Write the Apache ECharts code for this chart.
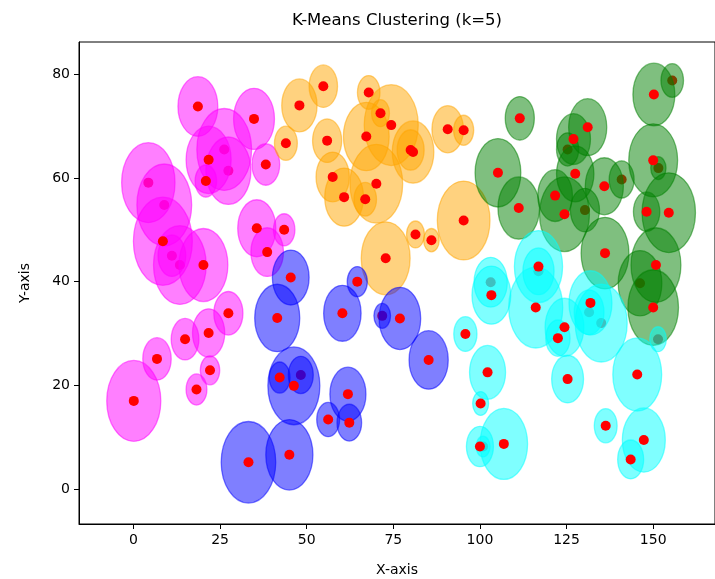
<!DOCTYPE html>
<html>
<head>
<meta charset="utf-8">
<script src="https://cdn.jsdelivr.net/npm/echarts@6/dist/echarts.min.js"></script>
<style>html,body{margin:0;padding:0;background:#fff}#c{width:715px;height:579px}</style>
</head>
<body>
<div id="c"></div>
<script>
// Each point: [x, y, radius (data units), dotBeneath (1 = red dot lies under the circles)]
const magentaPts = [
  [18.6,73.8,5.75,0],[34.8,71.4,5.9,0],[26.2,65.5,7.9,1],[21.7,63.5,6.5,0],[27.4,61.4,6.5,1],
  [20.9,59.4,3.1,0],[38.2,62.6,4.0,0],[4.3,59.1,7.7,1],[8.9,54.8,7.9,1],[8.5,47.8,8.5,0],
  [11.1,45.0,4.0,1],[13.4,43.2,7.6,1],[20.2,43.2,7.05,0],[35.6,50.3,5.5,0],[43.5,50.0,3.1,0],
  [38.6,45.7,4.7,0],[27.4,33.9,4.2,0],[21.7,30.1,4.65,0],[14.9,28.9,4.0,0],[6.8,25.1,4.1,0],
  [22.1,22.9,2.8,0],[18.2,19.2,3.0,0],[0.1,17.0,7.8,0]
];
const orangePts = [
  [47.9,74.0,5.1,0],[44.0,66.7,3.3,0],[54.8,77.7,4.1,0],[55.9,67.2,4.2,0],[57.5,60.2,4.8,0],
  [60.8,56.3,5.6,0],[66.9,55.9,3.25,0],[70.1,58.9,7.6,0],[67.9,76.5,3.25,0],[71.3,72.5,2.6,0],
  [74.4,70.2,7.8,0],[67.2,68.0,6.6,0],[80.7,65.0,6.0,0],[80.0,65.4,3.9,0],[90.7,69.4,4.55,0],
  [95.3,69.2,2.9,0],[95.3,51.8,7.6,0],[81.4,49.1,2.6,0],[86.0,48.0,2.25,0],[72.8,44.5,7.05,0]
];
const bluePts = [
  [33.2,5.15,7.87,0],[45.0,6.6,6.8,0],[46.3,19.9,7.5,0],[42.2,21.5,3.0,0],[48.3,22.0,3.6,1],
  [56.2,13.4,3.3,0],[62.3,12.8,3.55,0],[61.9,18.3,5.2,0],[45.4,40.8,5.3,0],[41.5,33.0,6.5,0],
  [60.3,33.9,5.4,0],[64.6,40.0,2.9,0],[71.8,33.4,2.4,1],[76.9,32.9,6.0,0],[85.2,24.9,5.65,0]
];
const greenPts = [
  [105.2,61.0,6.6,0],[111.5,71.5,4.2,0],[111.2,54.2,6.0,0],[121.7,56.6,5.0,0],[124.4,53.0,7.2,0],
  [130.3,53.8,4.2,1],[127.5,60.8,5.4,0],[125.3,65.5,3.2,1],[127.0,67.5,4.9,0],[131.1,69.8,5.5,0],
  [135.9,58.4,5.5,0],[140.9,59.7,3.6,1],[136.1,45.5,6.9,0],[150.2,76.1,6.05,0],[155.5,78.8,3.25,1],
  [150.0,63.4,7.05,0],[151.5,61.9,2.2,1],[148.1,53.5,3.8,0],[154.5,53.3,7.7,0],[150.8,43.2,7.2,0],
  [146.2,39.7,6.3,1],[150.0,35.0,7.3,0]
];
const cyanPts = [
  [103.1,39.9,4.8,1],[103.3,37.4,5.6,0],[95.8,29.9,3.35,0],[102.2,22.5,5.2,0],[100.2,16.5,2.3,0],
  [100.0,8.2,3.9,0],[100.9,8.2,2.0,1],[106.9,8.7,6.85,0],[116.9,42.9,6.95,0],[116.9,42.0,4.5,1],
  [116.1,35.0,7.8,0],[124.4,31.2,5.6,0],[122.5,29.1,3.5,0],[131.9,35.9,6.2,0],[131.5,34.1,4.3,1],
  [135.0,32.0,7.5,1],[125.3,21.2,4.6,0],[145.4,22.1,7.05,0],[136.3,12.2,3.3,0],[147.3,9.45,6.2,0],
  [143.5,5.7,3.75,0],[151.4,28.9,2.4,1]
];
const xTicks = [0,25,50,75,100,125,150];
const yTicks = [0,20,40,60,80];

const clusters = [
  {name:'Cluster magenta', color:'#ff00ff', pts: magentaPts},
  {name:'Cluster orange', color:'#ffa500', pts: orangePts},
  {name:'Cluster blue', color:'#0000ff', pts: bluePts},
  {name:'Cluster green', color:'#008000', pts: greenPts},
  {name:'Cluster cyan', color:'#00ffff', pts: cyanPts}
];

const allPts = clusters.flatMap(c => c.pts);
const dotsBelow = allPts.filter(p => p[3] === 1).map(p => [p[0], p[1]]);
const dotsAbove = allPts.filter(p => p[3] === 0).map(p => [p[0], p[1]]);

const FONT = 'DejaVu Sans';

const circleSeries = clusters.map(c => ({
  type: 'custom',
  name: c.name,
  z: 2,
  clip: false,
  data: c.pts.map(p => [p[0], p[1], p[2]]),
  renderItem: function (params, api) {
    const ctr = api.coord([api.value(0), api.value(1)]);
    const sz = api.size([api.value(2), api.value(2)], [api.value(0), api.value(1)]);
    return {
      type: 'ellipse',
      shape: {cx: ctr[0], cy: ctr[1], rx: sz[0], ry: sz[1]},
      style: {fill: c.color, stroke: c.color, lineWidth: 1.3, opacity: 0.5}
    };
  }
}));

const chart = echarts.init(document.getElementById('c'), null, {renderer: 'canvas'});
chart.setOption({
  animation: false,
  backgroundColor: '#fff',
  grid: {left: 79, right: -2, top: 42, bottom: 55, show: true, borderColor: '#000', borderWidth: 1, backgroundColor: 'transparent'},
  xAxis: {
    type: 'value', min: -15.71, max: 167.84,
    splitLine: {show: false},
    axisLine: {show: true, onZero: false, lineStyle: {color: '#000', width: 1}},
    axisTick: {show: true, length: 5, customValues: xTicks, lineStyle: {color: '#000'}},
    axisLabel: {customValues: xTicks, color: '#000', fontFamily: FONT, fontSize: 14, margin: 9}
  },
  yAxis: {
    type: 'value', min: -6.75, max: 86.23,
    splitLine: {show: false},
    axisLine: {show: true, onZero: false, lineStyle: {color: '#000', width: 1}},
    axisTick: {show: true, length: 5, customValues: yTicks, lineStyle: {color: '#000'}},
    axisLabel: {customValues: yTicks, color: '#000', fontFamily: FONT, fontSize: 14, margin: 9}
  },
  graphic: [
    {type: 'text', x: 397, y: 21, style: {text: 'K-Means Clustering (k=5)', fill: '#000', font: '16.5px "DejaVu Sans"', textAlign: 'center', textVerticalAlign: 'middle'}},
    {type: 'text', x: 397, y: 570, style: {text: 'X-axis', fill: '#000', font: '14px "DejaVu Sans"', textAlign: 'center', textVerticalAlign: 'middle'}},
    {type: 'text', x: 25, y: 283, rotation: Math.PI / 2, style: {text: 'Y-axis', fill: '#000', font: '14px "DejaVu Sans"', textAlign: 'center', textVerticalAlign: 'middle'}}
  ],
  series: [
    {type: 'scatter', name: 'points (beneath)', z: 1, data: dotsBelow, symbolSize: 10, itemStyle: {color: '#ff0000', opacity: 1}},
    ...circleSeries,
    {type: 'scatter', name: 'points', z: 3, data: dotsAbove, symbolSize: 10, itemStyle: {color: '#ff0000', opacity: 1}}
  ]
});
</script>
</body>
</html>
